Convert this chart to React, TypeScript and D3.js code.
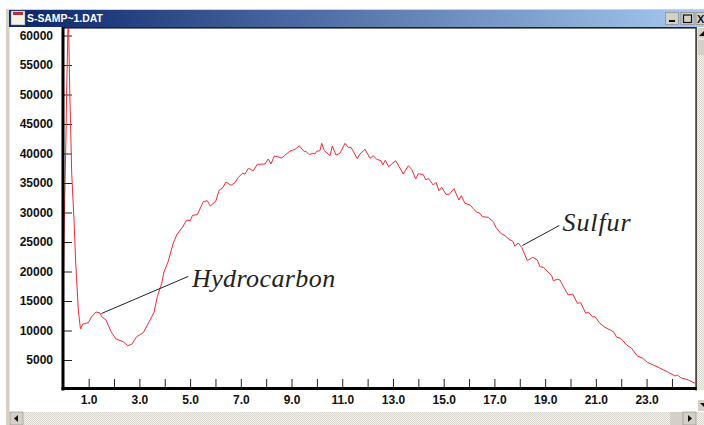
import React, { useRef, useEffect } from "react";
import { select, scaleLinear, axisLeft, axisBottom, line, range } from "d3";

// retention time (min) and detector response
const times = [
  0.01, 0.04, 0.11, 0.13, 0.166, 0.185, 0.205, 0.225, 0.256, 0.292, 0.331, 0.422, 0.489, 0.528, 0.591, 0.678, 0.765, 0.986,
  1.12, 1.29, 1.447, 1.514, 1.684, 1.881, 2.078, 2.366, 2.539, 2.697, 2.894, 3.155, 3.352, 3.577, 3.707, 3.88, 3.97, 4.13,
  4.337, 4.47, 4.73, 4.866, 5.0, 5.1, 5.284, 5.52, 5.678, 5.797, 6.01, 6.15, 6.27, 6.416, 6.613, 6.77, 6.9, 7.074, 7.165,
  7.295, 7.492, 7.65, 7.953, 8.084, 8.19, 8.32, 8.44, 8.612, 8.94, 9.136, 9.306, 9.5, 9.57, 9.7, 9.834, 9.925, 9.99, 10.12,
  10.19, 10.29, 10.517, 10.607, 10.753, 10.91, 11.108, 11.238, 11.345, 11.593, 11.7, 11.897, 12.094, 12.224, 12.358, 12.528,
  12.595, 12.697, 12.83, 13.107, 13.407, 13.604, 13.738, 13.896, 14.0, 14.196, 14.3, 14.39, 14.59, 14.696, 14.815, 14.92,
  15.09, 15.22, 15.406, 15.6, 15.694, 15.84, 16.037, 16.3, 16.43, 16.52, 16.76, 16.956, 17.06, 17.247, 17.417, 17.614, 17.72,
  17.81, 17.94, 18.076, 18.297, 18.51, 18.69, 18.797, 18.93, 19.26, 19.32, 19.48, 19.586, 19.756, 19.91, 20.087, 20.27, 20.4,
  20.6, 20.7, 20.875, 20.966, 21.16, 21.36, 21.62, 21.715, 21.82, 21.98, 22.216, 22.41, 22.634, 22.85, 23.03, 23.46, 23.856,
  24.12, 24.21, 24.345, 24.645, 24.91,
];
const response = [
  19900, 28730, 43985, 50260, 57550, 62630, 62630, 57550, 50260, 43985, 36700, 28730, 21440, 18560, 13475, 10250, 11100, 11320,
  12340, 13140, 12970, 12340, 11780, 9800, 8560, 8100, 7420, 7660, 8950, 9630, 11220, 13090, 15730, 18000, 19920, 21610,
  24830, 26190, 27710, 28730, 28610, 29530, 29630, 31830, 32000, 31100, 31900, 33820, 34100, 35170, 34610, 35050, 35970, 36650, 36530,
  37490, 37090, 38170, 38220, 39070, 38220, 39580, 39460, 39240, 40430, 40710, 41320, 40310, 40370, 39800, 40040, 39920, 40370, 40480,
  41730, 40480, 39630, 41270, 39750, 40040, 41730, 41050, 41050, 39120, 39920, 40710, 39190, 39630, 39020, 38780,
  38050, 38850, 37760, 38780, 36530, 37930, 37320, 35680, 36580, 36410, 35510, 35800, 34660, 35120, 33700, 34270,
  33090, 33090, 34040, 32120, 32850, 31560, 31270, 30040, 29870, 29290, 29190, 28440, 27490, 26480, 26070, 25340, 25170,
  24270, 24830, 24100, 21830, 22410, 21950, 20810, 20710, 19290, 18440, 18680, 18560, 17150, 16020, 16190, 14610, 14710,
  12920, 13090, 12340, 12340, 11220, 10540, 9970, 9700, 8850, 8680, 7540, 6980, 5680, 5290, 4610, 3760, 2920,
  2290, 2460, 2000, 1610, 1050,
];
const yTicks = range(5000, 60001, 5000);
const xTicks = range(1, 25);

const annotations = [
  { label: "Hydrocarbon", from: [1.5, 12870], to: [4.93, 19170] },
  { label: "Sulfur", from: [18.1, 24400], to: [19.56, 27800] },
];

const W = 704;
const H = 425;
const left = 63.3;
const bottom = 389.5;
const top = 28;
const right = 696;

export default function App() {
  const xAxisRef = useRef<SVGGElement>(null);
  const yAxisRef = useRef<SVGGElement>(null);
  const x = scaleLinear().domain([0, 25]).range([left, left + 25 * 25.36]);
  const y = scaleLinear().domain([0, 60000]).range([bottom, bottom - 60000 / 169.5]);

  useEffect(() => {
    const xAxis = axisBottom(x)
      .tickValues(xTicks)
      .tickSizeInner(-9)
      .tickSizeOuter(0)
      .tickPadding(7)
      .tickFormat((d: any) => (d % 2 === 1 ? d.toFixed(1) : ""));
    const gx = select(xAxisRef.current).call(xAxis as any);
    gx.select(".domain").remove();
    gx.selectAll("line").attr("stroke", "#222");
    gx.selectAll("text")
      .attr("font-family", "Liberation Sans")
      .attr("font-weight", "bold")
      .attr("font-size", 12)
      .attr("fill", "#111");

    const yAxis = axisLeft(y).tickValues(yTicks).tickSizeInner(-9).tickSizeOuter(0).tickPadding(10).tickFormat((d: any) => String(d));
    const gy = select(yAxisRef.current).call(yAxis as any);
    gy.select(".domain").remove();
    gy.selectAll("line").attr("stroke", "#222");
    gy.selectAll("text")
      .attr("font-family", "Liberation Sans")
      .attr("font-weight", "bold")
      .attr("font-size", 12)
      .attr("fill", "#111");
  }, []);

  const trace = line<number>()
    .x((d) => x(d))
    .y((_, i) => y(response[i]));

  return (
    <svg width={W} height={H} style={{ position: "absolute", left: 0, top: 0, display: "block" }}>
      <defs>
        <linearGradient id="titlebar" x1="0" x2="1" y1="0" y2="0">
          <stop offset="0" stopColor="#0a246a" />
          <stop offset="1" stopColor="#a6caf0" />
        </linearGradient>
        <pattern id="dither" width="2" height="2" patternUnits="userSpaceOnUse">
          <rect width="2" height="2" fill="#f2f1ec" />
          <rect width="1" height="1" fill="#d8d6ce" />
          <rect x="1" y="1" width="1" height="1" fill="#d8d6ce" />
        </pattern>
        <clipPath id="plot">
          <rect x={left} y={top} width={right - left} height={bottom - top} />
        </clipPath>
      </defs>
      <rect width={W} height={H} fill="#fff" />

      {/* window chrome */}
      <rect x={6} y={9} width={3.5} height={H - 9} fill="#d4d0c8" />
      <rect x={6} y={9} width={698} height={1} fill="#d4d0c8" />
      <rect x={9} y={10} width={695} height={17} fill="url(#titlebar)" />
      <rect x={11} y={11} width={14} height={14} fill="#f4f2e8" stroke="#777" strokeWidth={0.5} />
      <rect x={13} y={12} width={10} height={3} fill="#b03040" />
      <text x={27} y={22} fontFamily="Liberation Sans" fontWeight="bold" fontSize={10.4} fill="#fff">
        S-SAMP~1.DAT
      </text>
      {[665, 681, 696].map((bx, i) => (
        <g key={bx}>
          <rect x={bx + (i === 0 ? 0.5 : 0)} y={12.5} width={i === 2 ? 9 : 13} height={12} fill="#d4d0c8" stroke="#8a887f" strokeWidth={0.7} />
        </g>
      ))}
      <rect x={669} y={20} width={6} height={2} fill="#111" />
      <rect x={683.5} y={15} width={8} height={7.5} fill="none" stroke="#111" strokeWidth={1.2} />
      <text x={697} y={23} fontFamily="Liberation Sans" fontWeight="bold" fontSize={11} fill="#111">
        X
      </text>

      {/* scroll bars */}
      <rect x={10} y={412} width={694} height={13} fill="url(#dither)" />
      <rect x={10} y={412} width={13} height={13} fill="#d4d0c8" stroke="#8a887f" strokeWidth={0.6} />
      <path d="M14 418.5 L18 415 L18 422 Z" fill="#111" />
      <rect x={670} y={412} width={13} height={13} fill="#d4d0c8" />
      <rect x={683} y={412} width={13} height={13} fill="#d4d0c8" stroke="#8a887f" strokeWidth={0.6} />
      <path d="M692 418.5 L688 415 L688 422 Z" fill="#111" />
      <rect x={697} y={28} width={7} height={372} fill="url(#dither)" />
      <rect x={698} y={28} width={6} height={10} fill="#d4d0c8" />
      <path d="M699 36 L704 31 L704 36 Z" fill="#111" />
      <rect x={698} y={40} width={6} height={15} fill="#d4d0c8" />
      <rect x={697} y={390} width={7} height={10} fill="#fff" />
      <rect x={698} y={400} width={6} height={11} fill="#d4d0c8" />
      <path d="M700 403 L704 403 L704 407 Z" fill="#111" />

      {/* plot frame */}
      <rect x={left - 0.3} y={27} width={right - left + 0.3} height={1.6} fill="#222" />
      <rect x={695.3} y={27} width={1.6} height={bottom - 26} fill="#333" />
      <g ref={xAxisRef} transform={`translate(0,${bottom - 1.5})`} />
      <g ref={yAxisRef} transform={`translate(${left - 0.3},0)`} />
      <path d={trace(times) ?? ""} fill="none" stroke="#f02a36" strokeWidth={1} clipPath="url(#plot)" />
      <rect x={61.5} y={27} width={3} height={bottom - 26} fill="#000" />
      <rect x={61.5} y={387} width={right - 61} height={3} fill="#000" />

      {/* callouts */}
      {annotations.map((a) => (
        <line
          key={a.label}
          x1={x(a.from[0])}
          y1={y(a.from[1])}
          x2={x(a.to[0])}
          y2={y(a.to[1])}
          stroke="#222"
          strokeWidth={1}
        />
      ))}
      <text x={192} y={287} fontFamily="Liberation Serif" fontStyle="italic" fontSize={26} letterSpacing={0.4} fill="#222">
        {annotations[0].label}
      </text>
      <text x={562.5} y={231} fontFamily="Liberation Serif" fontStyle="italic" fontSize={26} letterSpacing={0.9} fill="#222">
        {annotations[1].label}
      </text>
    </svg>
  );
}
